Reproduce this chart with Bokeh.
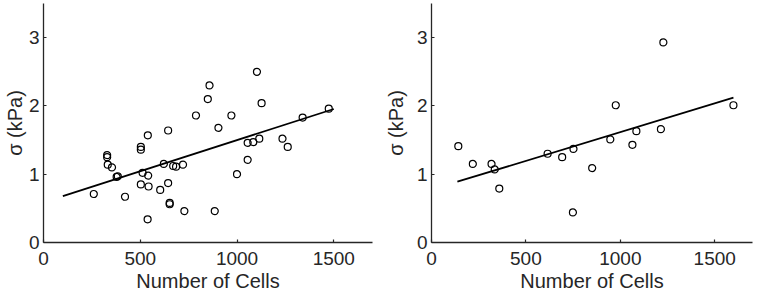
from bokeh.plotting import figure
from bokeh.layouts import row
from bokeh.models import Range1d, FixedTicker
from bokeh.embed import file_html
from bokeh.resources import INLINE

x_ticks = [0, 500, 1000, 1500]
y_ticks = [0, 1, 2, 3]
x_label = "Number of Cells"
y_label = "σ (kPa)"

left_cells = [260, 329, 329, 332, 354, 378, 384, 421, 503, 503, 512, 503, 539, 541, 543,
              538, 603, 622, 644, 644, 652, 652, 670, 685, 721, 728, 788, 849, 858, 904,
              885, 971, 1000, 1055, 1055, 1084, 1103, 1115, 1127, 1235, 1262, 1339, 1474]
left_sigma = [0.71, 1.28, 1.25, 1.14, 1.10, 0.96, 0.97, 0.67, 1.40, 1.36, 1.02, 0.85, 1.57, 0.98, 0.82,
              0.34, 0.77, 1.15, 1.64, 0.87, 0.58, 0.56, 1.12, 1.11, 1.14, 0.46, 1.86, 2.10, 2.30, 1.68,
              0.46, 1.86, 1.00, 1.21, 1.46, 1.47, 2.50, 1.52, 2.04, 1.52, 1.40, 1.83, 1.96]
left_fit_x = [100, 1500]
left_fit_y = [0.68, 1.955]

right_cells = [142, 219, 318, 335, 359, 615, 692, 752, 749, 851, 947, 976, 1064, 1085, 1215, 1228, 1599]
right_sigma = [1.41, 1.15, 1.15, 1.07, 0.79, 1.30, 1.25, 1.37, 0.44, 1.09, 1.51, 2.01, 1.43, 1.63, 1.66, 2.93, 2.01]
right_fit_x = [137, 1599]
right_fit_y = [0.89, 2.12]

FONT = "Liberation Sans"
AX = "#262626"


def make_panel(cells, sigma, fit_x, fit_y, border_left, frame_width, border_right, ylab_standoff):
    p = figure(output_backend="svg", toolbar_location=None,
               frame_width=frame_width, frame_height=239,
               x_range=Range1d(0, 1700), y_range=Range1d(0, 3.5),
               min_border_left=border_left, min_border_right=border_right,
               min_border_top=3, min_border_bottom=0)
    p.outline_line_color = None
    p.xgrid.visible = False
    p.ygrid.visible = False
    p.background_fill_color = "white"
    p.border_fill_color = "white"

    for ax in (p.xaxis[0], p.yaxis[0]):
        ax.axis_line_color = AX
        ax.axis_line_width = 1.3
        ax.major_tick_line_color = AX
        ax.major_tick_line_width = 1.2
        ax.major_tick_in = 3
        ax.major_tick_out = 0
        ax.minor_tick_line_color = None
        ax.major_label_text_font = FONT
        ax.major_label_text_font_size = "19px"
        ax.major_label_text_color = AX
        ax.axis_label_text_font = FONT
        ax.axis_label_text_font_style = "normal"
        ax.axis_label_text_color = AX

    p.xaxis[0].ticker = FixedTicker(ticks=x_ticks)
    p.yaxis[0].ticker = FixedTicker(ticks=y_ticks)
    p.xaxis[0].axis_label = x_label
    p.yaxis[0].axis_label = y_label
    p.xaxis[0].axis_label_text_font_size = "20px"
    p.yaxis[0].axis_label_text_font_size = "20px"
    p.xaxis[0].major_label_standoff = 9
    p.xaxis[0].axis_label_standoff = 2
    p.yaxis[0].major_label_standoff = 4
    p.yaxis[0].axis_label_standoff = ylab_standoff

    p.line(fit_x, fit_y, line_color="black", line_width=1.8)
    p.scatter(cells, sigma, marker="circle", size=7, fill_color=None,
              line_color="black", line_width=1.2)
    return p


p1 = make_panel(left_cells, left_sigma, left_fit_x, left_fit_y, 30, 329, 9, 0)
p2 = make_panel(right_cells, right_sigma, right_fit_x, right_fit_y, 30, 321, 5, 7)

layout = row(p1, p2)
open("out.html", "w").write(file_html(layout, INLINE))
